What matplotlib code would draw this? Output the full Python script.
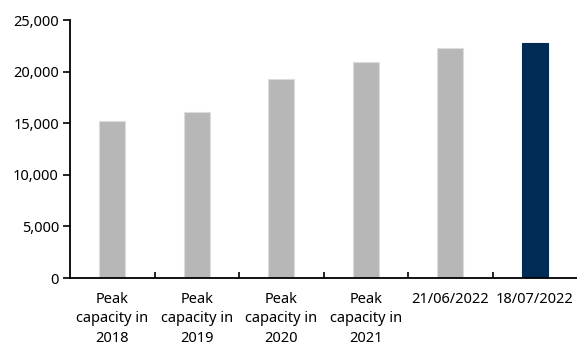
import matplotlib
matplotlib.use("Agg")
import matplotlib.pyplot as plt
from matplotlib.ticker import FuncFormatter, FixedLocator

categories = ["Peak\ncapacity in\n2018", "Peak\ncapacity in\n2019", "Peak\ncapacity in\n2020",
              "Peak\ncapacity in\n2021", "21/06/2022", "18/07/2022"]
values = [15200, 16100, 19300, 20900, 22300, 22800]
colors = ["#b7b7b7"] * 5 + ["#002b55"]

plt.rcParams['font.family'] = ['Noto Sans', 'DejaVu Sans']

fig = plt.figure(figsize=(5.77, 3.43), dpi=100)
ax = fig.add_axes([70/577, 65/343, 507/577, 258/343])

x = list(range(len(categories)))
ax.bar(x, values, width=0.31, color=colors, edgecolor=["#dcdcdc"]*5 + ["#002b55"], linewidth=0.8)
ax.set_xlim(-0.5, len(categories) - 0.5)
ax.set_ylim(0, 25000)
ax.set_yticks(range(0, 25001, 5000))
ax.yaxis.set_major_formatter(FuncFormatter(lambda v, p: f"{int(v):,}"))

ax.set_xticks(x)
ax.set_xticklabels(categories, fontsize=10.5, linespacing=1.4)
ax.tick_params(axis='x', length=0, pad=10)
ax.xaxis.set_minor_locator(FixedLocator([i + 0.5 for i in range(len(categories) - 1)]))
ax.tick_params(axis='x', which='minor', direction='in', length=4, width=1.2)
ax.tick_params(axis='y', direction='out', length=5, width=1.2, labelsize=10.5, pad=3)

for s in ['top', 'right']:
    ax.spines[s].set_visible(False)
for s in ['left', 'bottom']:
    ax.spines[s].set_linewidth(1.3)

fig.savefig("out.png", dpi=100)
